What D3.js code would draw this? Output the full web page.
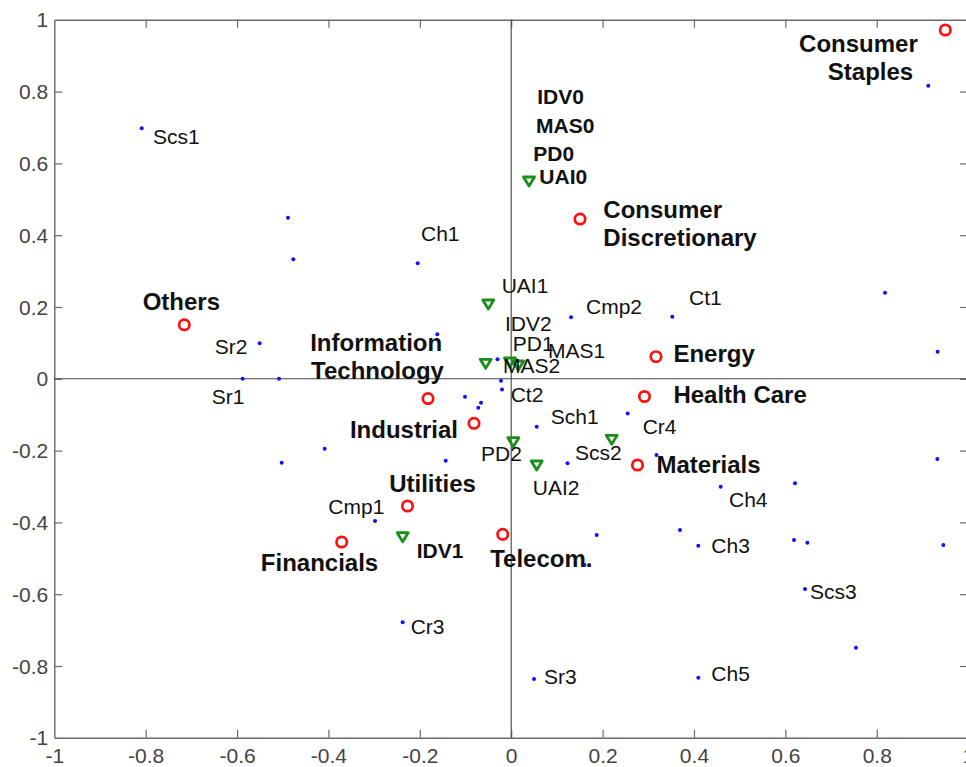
<!DOCTYPE html>
<html>
<head>
<meta charset="utf-8">
<script src="https://cdn.jsdelivr.net/npm/d3@7/dist/d3.min.js"></script>
<style>
  html, body { margin: 0; padding: 0; background: #fff; overflow: hidden; }
  svg { display: block; font-family: "Liberation Sans", Arial, sans-serif; }
</style>
</head>
<body>
<svg id="chart" width="966" height="767"></svg>
<script>
// ---------- data ----------
const xTicks = [-1, -0.8, -0.6, -0.4, -0.2, 0, 0.2, 0.4, 0.6, 0.8, 1];
const yTicks = [-1, -0.8, -0.6, -0.4, -0.2, 0, 0.2, 0.4, 0.6, 0.8, 1];

// blue points (variable categories)
const pointX = [-0.8087, -0.4885, -0.4769, -0.2046, -0.5505, -0.1617, -0.5877, -0.5082, -0.4082, -0.5023,
                -0.1434, -0.1011, -0.0661, -0.0720, -0.2981, -0.2375, -0.0300, -0.0223, -0.0201, 0.0558,
                 0.2550,  0.3180,  0.1232,  0.4585,  0.6211,  0.9326,  0.1871,  0.3694,  0.4095, 0.6190,
                 0.6481,  0.9457,  0.6430,  0.7546,  0.0499,  0.4095,  0.1604,  0.9129,  0.8181, 0.1309,
                 0.3526,  0.9333];
const pointY = [ 0.6978,  0.4487,  0.3329,  0.3217,  0.0989,  0.1240,  0.0000,  0.0000, -0.1947, -0.2337,
                -0.2281, -0.0499, -0.0666, -0.0805, -0.3961, -0.6783,  0.0543, -0.0053, -0.0298, -0.1334,
                -0.0967, -0.2123, -0.2354, -0.3006, -0.2911, -0.2234, -0.4351, -0.4212, -0.4649, -0.4490,
                -0.4565, -0.4630, -0.5855, -0.7490, -0.8362, -0.8326, -0.5187,  0.8164,  0.2398,  0.1713,
                 0.1730,  0.0755];

const pointLabels = ["Scs1", "Ch1", "Sr2", "Sr1", "UAI1", "IDV2", "PD1", "MAS1", "MAS2", "Cmp2", "Ct1", "Ct2",
                     "Sch1", "Cr4", "Scs2", "PD2", "UAI2", "Ch4", "Ch3", "Scs3", "Sr3", "Ch5", "Cmp1", "Cr3"];
const pointLabelX = [-0.784, -0.1974, -0.6486, -0.6555, -0.0208, -0.0136, 0.0033, 0.0805, -0.0179, 0.1637, 0.3894, -0.0011,
                      0.0865, 0.2878, 0.1396, -0.0661, 0.0471, 0.4767, 0.438, 0.654, 0.0718, 0.438, -0.4003, -0.22];
const pointLabelY = [0.6744, 0.4042, 0.0886, -0.0499, 0.2585, 0.1546, 0.0989, 0.0802, 0.0357, 0.2008, 0.2259, -0.0451,
                     -0.1056, -0.1315, -0.2058, -0.2075, -0.3022, -0.3357, -0.4649, -0.593, -0.8298, -0.8203, -0.3563, -0.6905];

// green triangles (cultural dimension levels)
const factorX = [0.0390, -0.0501, -0.0558, -0.0026, 0.0155, 0.0046, 0.0558, 0.2200, -0.2375];
const factorY = [0.5510, 0.2084, 0.0432, 0.0468, 0.0384, -0.1752, -0.2401, -0.1685, -0.4398];
const factorLabels = ["IDV0", "MAS0", "PD0", "UAI0", "IDV1"];
const factorLabelX = [0.0571, 0.0543, 0.0484, 0.0615, -0.2068];
const factorLabelY = [0.7858, 0.7042, 0.6281, 0.5630, -0.4769];

// red circles (sectors)
const sectorNames = ["Consumer Staples", "Consumer Discretionary", "Others", "Energy", "Health Care", "Materials",
                     "Information Technology", "Industrial", "Utilities", "Financials", "Telecom."];
const sectorX = [0.9501, 0.1506, -0.7155, 0.3169, 0.2917, 0.2764, -0.1821, -0.0814, -0.2270, -0.3710, -0.0186];
const sectorY = [0.9716, 0.4451, 0.1504, 0.0616, -0.0493, -0.2401, -0.0549, -0.1240, -0.3543, -0.4546, -0.4331];
const sectorLabelText = ["Consumer", "Staples", "Consumer", "Discretionary", "Others", "Energy", "Health Care",
                         "Materials", "Information", "Technology", "Industrial", "Utilities", "Financials", "Telecom."];
const sectorLabelX = [0.630, 0.693, 0.2016, 0.2016, -0.8065, 0.355, 0.355, 0.318, -0.440, -0.438, -0.353, -0.267, -0.548, -0.046];
const sectorLabelY = [0.9345, 0.8554, 0.4721, 0.3930, 0.2148, 0.0691, -0.0451, -0.2401, 0.1006, 0.0226, -0.1426, -0.2930, -0.5123, -0.5000];

// ---------- drawing ----------
const svg = d3.select("#chart");
const x = d3.scaleLinear().domain([-1, 1]).range([54.3, 968.1]);
const y = d3.scaleLinear().domain([-1, 1]).range([737.8, 19.8]);
const fmt = d => String(+d.toFixed(1));
const axisColor = "#6a6a6a";
const tickLen = 8;

// bottom axis
const gB = svg.append("g").attr("transform", `translate(0,${y(-1)})`)
  .call(d3.axisBottom(x).tickValues(xTicks).tickFormat(fmt).tickSizeInner(-tickLen).tickSizeOuter(0));
gB.selectAll("text").attr("y", 25.7).attr("dy", null)
  .attr("font-size", 21).attr("fill", "#444").attr("font-family", "Liberation Sans, Arial, sans-serif");
// left axis
const gL = svg.append("g").attr("transform", `translate(${x(-1)},0)`)
  .call(d3.axisLeft(y).tickValues(yTicks).tickFormat(fmt).tickSizeInner(-tickLen).tickSizeOuter(0));
gL.selectAll("text").attr("x", -6).attr("dy", "0.34em")
  .attr("font-size", 21).attr("fill", "#444").attr("font-family", "Liberation Sans, Arial, sans-serif");
// top and right axes (ticks only)
svg.append("g").attr("transform", `translate(0,${y(1)})`)
  .call(d3.axisTop(x).tickValues(xTicks).tickFormat("").tickSizeInner(-tickLen).tickSizeOuter(0));
svg.append("g").attr("transform", `translate(${x(1)},0)`)
  .call(d3.axisRight(y).tickValues(yTicks).tickFormat("").tickSizeInner(-tickLen).tickSizeOuter(0));

svg.selectAll(".domain").attr("stroke", axisColor).attr("stroke-width", 1.4);
svg.selectAll(".tick line").attr("stroke", axisColor).attr("stroke-width", 1.2);
// hide tick marks at the box corners
svg.selectAll(".tick").filter(d => Math.abs(d) === 1).select("line").attr("stroke-opacity", 0);

// zero lines
svg.append("line").attr("x1", x(-1)).attr("x2", x(1)).attr("y1", y(0)).attr("y2", y(0))
  .attr("stroke", "#444").attr("stroke-width", 1.1);
svg.append("line").attr("x1", x(0)).attr("x2", x(0)).attr("y1", y(-1)).attr("y2", y(1))
  .attr("stroke", "#444").attr("stroke-width", 1.1);

// blue points
svg.append("g").selectAll("circle").data(pointX.map((v, i) => [v, pointY[i]])).join("circle")
  .attr("cx", d => x(d[0])).attr("cy", d => y(d[1])).attr("r", 2).attr("fill", "#1010ff");

// green triangles (pointing down)
const tri = "M-5.5,-4L5.5,-4L0,5Z";
svg.append("g").selectAll("path").data(factorX.map((v, i) => [v, factorY[i]])).join("path")
  .attr("d", tri).attr("transform", d => `translate(${x(d[0])},${y(d[1])})`)
  .attr("fill", "none").attr("stroke", "#1a901a").attr("stroke-width", 2.8).attr("stroke-linejoin", "round");

// red circles
svg.append("g").selectAll("circle").data(sectorX.map((v, i) => [v, sectorY[i], sectorNames[i]])).join("circle")
  .attr("cx", d => x(d[0])).attr("cy", d => y(d[1])).attr("r", 5.2)
  .attr("fill", "none").attr("stroke", "#ff1010").attr("stroke-width", 2.7);

// labels
const txt = svg.append("g").attr("fill", "#111").attr("dominant-baseline", "central");
txt.selectAll("text.pl").data(pointLabels).join("text").attr("class", "pl")
  .attr("x", (d, i) => x(pointLabelX[i])).attr("y", (d, i) => y(pointLabelY[i]))
  .attr("font-size", 21).text(d => d);
txt.selectAll("text.fl").data(factorLabels).join("text").attr("class", "fl")
  .attr("x", (d, i) => x(factorLabelX[i])).attr("y", (d, i) => y(factorLabelY[i]))
  .attr("font-size", 21).attr("font-weight", "bold").text(d => d);
txt.selectAll("text.sl").data(sectorLabelText).join("text").attr("class", "sl")
  .attr("x", (d, i) => x(sectorLabelX[i])).attr("y", (d, i) => y(sectorLabelY[i]))
  .attr("font-size", 24).attr("font-weight", "bold").text(d => d);
</script>
</body>
</html>
